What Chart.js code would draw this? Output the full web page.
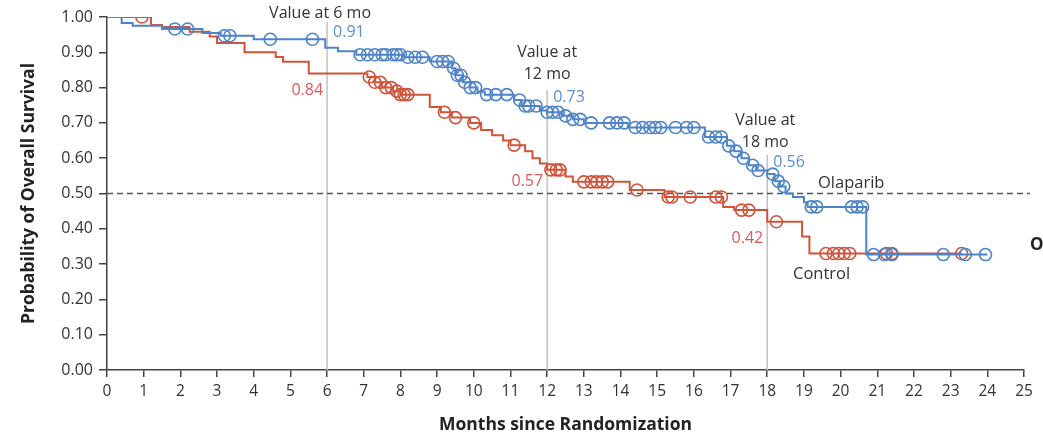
<!DOCTYPE html>
<html>
<head>
<meta charset="utf-8">
<script src="https://cdn.jsdelivr.net/npm/chart.js@4.4.1/dist/chart.umd.min.js"></script>
<style>
  html, body { margin: 0; padding: 0; background: #fff; }
  #wrap { width: 1043px; height: 437px; position: relative; }
</style>
</head>
<body>
<div id="wrap"><canvas id="km"></canvas></div>
<script>
// Kaplan-Meier steps: time of each drop (months) and survival after it
const olaparibTimes = [0, 0.4, 0.7, 1.5, 2.6, 3.1, 4.0, 5.95, 6.3, 6.8, 8.1, 8.8, 9.4, 9.5, 9.7, 9.9, 10.1, 10.3, 11.1, 11.3, 11.8, 12.0, 12.4, 12.7, 13.0, 14.2, 16.3, 16.9, 17.1, 17.3, 17.5, 17.7, 18.0, 18.2, 18.35, 18.5, 18.7, 19.0, 19.1, 20.7, 24.0];
const olaparibSurv  = [1.0, 0.983, 0.975, 0.966, 0.955, 0.947, 0.937, 0.913, 0.903, 0.893, 0.886, 0.874, 0.855, 0.835, 0.815, 0.80, 0.788, 0.78, 0.765, 0.748, 0.735, 0.73, 0.72, 0.71, 0.70, 0.687, 0.66, 0.635, 0.62, 0.60, 0.58, 0.565, 0.555, 0.535, 0.52, 0.50, 0.49, 0.475, 0.462, 0.327, 0.327];
const olaparibCensored = [1.85, 2.2, 3.2, 3.35, 4.45, 5.6, 6.9, 7.1, 7.3, 7.5, 7.6, 7.8, 7.9, 8.0, 8.2, 8.4, 8.6, 9.0, 9.15, 9.3, 9.45, 9.55, 9.65, 9.75, 9.9, 10.05, 10.35, 10.6, 10.9, 11.25, 11.4, 11.5, 11.7, 12.0, 12.15, 12.3, 12.5, 12.7, 12.9, 13.2, 13.7, 13.9, 14.1, 14.4, 14.6, 14.8, 14.95, 15.1, 15.5, 15.8, 16.0, 16.4, 16.6, 16.75, 16.95, 17.15, 17.35, 17.6, 17.75, 18.15, 18.3, 18.45, 19.2, 19.35, 20.3, 20.45, 20.6, 20.9, 21.2, 21.4, 22.8, 23.4, 23.95];

const controlTimes = [0, 1.2, 1.5, 2.25, 2.8, 3.0, 3.75, 4.6, 4.8, 5.5, 7.1, 7.3, 7.5, 7.8, 8.0, 8.8, 9.1, 9.4, 9.9, 10.2, 10.5, 10.8, 11.0, 11.4, 11.6, 11.8, 12.0, 12.5, 12.7, 14.25, 15.2, 16.8, 17.1, 18.0, 18.95, 19.15, 23.3];
const controlSurv  = [1.0, 0.977, 0.972, 0.958, 0.945, 0.926, 0.90, 0.887, 0.873, 0.84, 0.83, 0.815, 0.80, 0.79, 0.78, 0.745, 0.73, 0.715, 0.70, 0.68, 0.665, 0.65, 0.637, 0.62, 0.60, 0.585, 0.567, 0.548, 0.533, 0.51, 0.49, 0.462, 0.453, 0.42, 0.378, 0.33, 0.33];
const controlCensored = [0.95, 7.15, 7.3, 7.45, 7.6, 7.75, 7.9, 8.0, 8.1, 8.2, 9.2, 9.5, 10.0, 11.1, 12.1, 12.25, 12.35, 13.0, 13.2, 13.35, 13.5, 13.65, 14.45, 15.3, 15.4, 15.9, 16.6, 16.75, 17.3, 17.5, 18.25, 19.6, 19.8, 19.95, 20.1, 20.25, 21.25, 21.4, 23.3];

const landmarkMonths = [6, 12, 18];
const landmarkHeaders = [['Value at 6 mo'], ['Value at', '12 mo'], ['Value at', '18 mo']];
const olaparibAtLandmark = ['0.91', '0.73', '0.56'];
const controlAtLandmark = ['0.84', '0.57', '0.42'];

const BLUE = '#4d83c8';
const RED = '#d0533a';
const TEXT = '#333';
const FONT = "'Open Sans', 'Noto Sans', sans-serif";

const toPoints = (ts, ss) => ts.map((t, i) => ({ x: t, y: ss[i] }));
// survival value of the curve at time t (censor marks sit on the curve)
const survAt = (ts, ss, t) => {
  let v = ss[0];
  for (let i = 0; i < ts.length; i++) if (ts[i] <= t) v = ss[i];
  return v;
};
const censorPoints = (cs, ts, ss) => cs.map(t => ({ x: t, y: survAt(ts, ss, t) }));

// layout of annotation text (pixels relative to the landmark line)
const landmarkStyle = [
  { headDx: -7, headY: [13], lineTop: 22, blueY: 32, redY: 90 },
  { headDx: 0, headY: [52, 74], lineTop: 90, blueY: 97, redY: 181 },
  { headDx: -2, headY: [120, 142], lineTop: 155, blueY: 162, redY: 238 },
];

const annotations = {
  id: 'annotations',
  beforeDatasetsDraw(chart) {
    const { ctx, chartArea, scales: { x, y } } = chart;
    ctx.save();
    ctx.strokeStyle = '#c2c2c2';
    ctx.lineWidth = 1.5;
    landmarkMonths.forEach((m, i) => {
      const px = x.getPixelForValue(m);
      ctx.beginPath();
      ctx.moveTo(px, landmarkStyle[i].lineTop);
      ctx.lineTo(px, chartArea.bottom);
      ctx.stroke();
    });
    // median line
    const py = y.getPixelForValue(0.5);
    ctx.strokeStyle = '#555';
    ctx.setLineDash([6, 4]);
    ctx.beginPath();
    ctx.moveTo(chartArea.left, py);
    ctx.lineTo(chartArea.right + 6, py);
    ctx.stroke();
    ctx.restore();
  },
  afterDatasetsDraw(chart) {
    const { ctx, scales: { x } } = chart;
    ctx.save();
    ctx.font = `16px ${FONT}`;
    ctx.textBaseline = 'middle';
    landmarkMonths.forEach((m, i) => {
      const px = x.getPixelForValue(m);
      const st = landmarkStyle[i];
      ctx.fillStyle = TEXT;
      ctx.textAlign = 'center';
      landmarkHeaders[i].forEach((line, j) => ctx.fillText(line, px + st.headDx, st.headY[j]));
      ctx.textAlign = 'left';
      ctx.fillStyle = '#5a8fd2';
      ctx.fillText(olaparibAtLandmark[i], px + 6, st.blueY);
      ctx.textAlign = 'right';
      ctx.fillStyle = '#e0575a';
      ctx.fillText(controlAtLandmark[i], px - 4, st.redY);
    });
    ctx.textAlign = 'left';
    ctx.fillStyle = TEXT;
    ctx.font = `16.5px ${FONT}`;
    ctx.fillText('Olaparib', 818, 183);
    ctx.fillText('Control', 793, 274);
    // legend cut off at the right edge
    ctx.font = `bold 17px ${FONT}`;
    ctx.fillStyle = '#222';
    ctx.fillText('Olaparib', 1030, 245);
    ctx.restore();
  }
};

const ctx = document.getElementById('km').getContext('2d');

new Chart(ctx, {
  data: {
    datasets: [
      {
        type: 'line',
        label: 'Olaparib',
        data: toPoints(olaparibTimes, olaparibSurv),
        borderColor: BLUE,
        borderWidth: 2,
        stepped: true,
        pointRadius: 0,
        fill: false
      },
      {
        type: 'scatter',
        label: 'Olaparib censored',
        data: censorPoints(olaparibCensored, olaparibTimes, olaparibSurv),
        borderColor: BLUE,
        backgroundColor: 'rgba(0,0,0,0)',
        borderWidth: 1.6,
        pointRadius: 6,
        pointStyle: 'circle'
      },
      {
        type: 'line',
        label: 'Control',
        data: toPoints(controlTimes, controlSurv),
        borderColor: RED,
        borderWidth: 2,
        stepped: true,
        pointRadius: 0,
        fill: false
      },
      {
        type: 'scatter',
        label: 'Control censored',
        data: censorPoints(controlCensored, controlTimes, controlSurv),
        borderColor: RED,
        backgroundColor: 'rgba(0,0,0,0)',
        borderWidth: 1.6,
        pointRadius: 6,
        pointStyle: 'circle'
      }
    ]
  },
  options: {
    responsive: true,
    maintainAspectRatio: false,
    animation: false,
    layout: { padding: { left: 0, right: 19, top: 17, bottom: 0 } },
    plugins: {
      legend: { display: false },
      tooltip: { enabled: false }
    },
    scales: {
      x: {
        type: 'linear',
        min: 0,
        max: 25,
        ticks: { stepSize: 1, color: TEXT, font: { family: FONT, size: 15.5 }, padding: 5 },
        grid: { drawOnChartArea: false, drawTicks: true, tickLength: 7, color: '#444', lineWidth: 1.5 },
        border: { display: true, color: '#444', width: 1.5 },
        title: {
          display: true,
          text: 'Months since Randomization',
          color: '#222',
          font: { family: FONT, size: 17.5, weight: 'bold' },
          padding: { top: 0, bottom: 1.5 }
        },
        afterFit: s => { s.height = 67; }
      },
      y: {
        type: 'linear',
        min: 0,
        max: 1,
        ticks: {
          stepSize: 0.1,
          color: TEXT,
          font: { family: FONT, size: 16 },
          padding: 6,
          callback: v => Number(v).toFixed(2)
        },
        grid: { drawOnChartArea: false, drawTicks: true, tickLength: 8, color: '#444', lineWidth: 1.5 },
        border: { display: true, color: '#444', width: 1.5 },
        title: {
          display: true,
          text: 'Probability of Overall Survival',
          color: '#222',
          font: { family: FONT, size: 17.5, weight: 'bold' },
          padding: { top: 18.5, bottom: 0 }
        },
        afterFit: s => { s.width = 107; }
      }
    }
  },
  plugins: [annotations]
});
</script>
</body>
</html>
